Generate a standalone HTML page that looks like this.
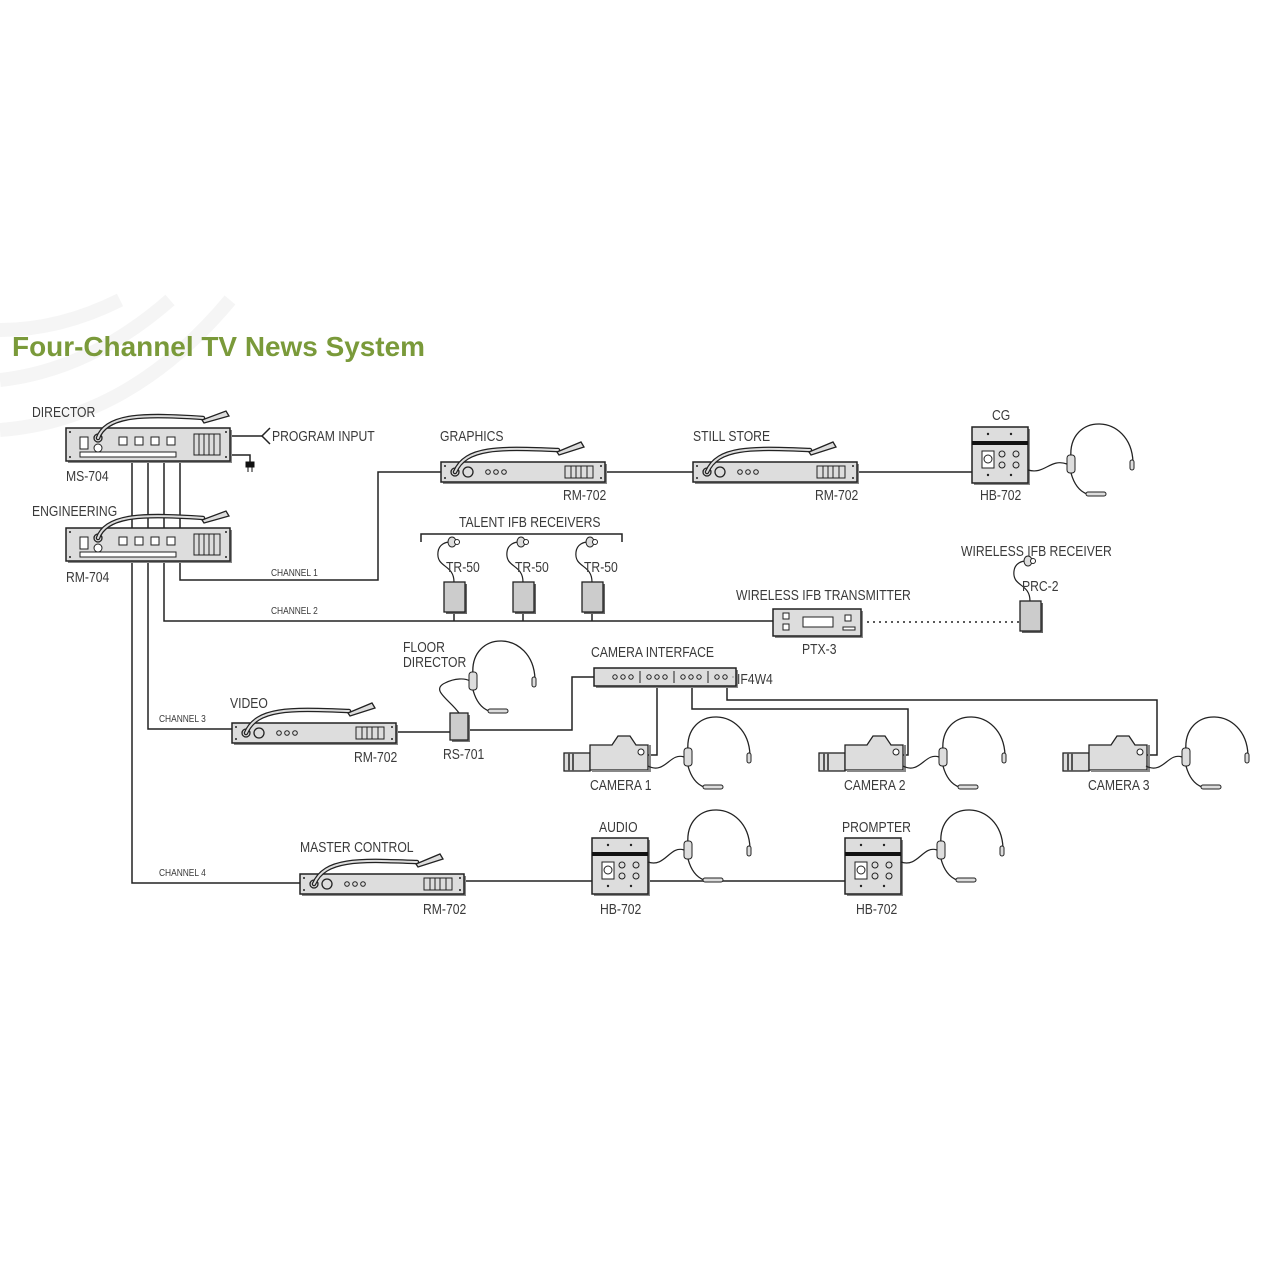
<!DOCTYPE html>
<html><head><meta charset="utf-8"><style>
html,body{margin:0;padding:0;background:#fff;}
svg{display:block;}
text{font-family:"Liberation Sans",sans-serif;fill:#3a3a3a;font-size:14.5px;transform-box:fill-box;transform-origin:left center;transform:scaleX(0.84);}
text.t{transform:none;}
.s{font-size:10px;}
</style></head><body>
<svg width="1280" height="1280" viewBox="0 0 1280 1280" xmlns="http://www.w3.org/2000/svg">
<defs>
<g id="rm702">
<rect x="2" y="2" width="164" height="20" fill="#888"/>
<rect x="0" y="0" width="164" height="20" fill="#ddd" stroke="#222" stroke-width="1.5"/>
<circle cx="4" cy="4" r="1" fill="#222"/><circle cx="4" cy="16" r="1" fill="#222"/><circle cx="160" cy="4" r="1" fill="#222"/><circle cx="160" cy="16" r="1" fill="#222"/>
<circle cx="14" cy="10" r="4" fill="none" stroke="#222" stroke-width="1.3"/>
<circle cx="27" cy="10" r="5" fill="none" stroke="#222" stroke-width="1.3"/>
<circle cx="47" cy="10" r="2.3" fill="none" stroke="#222"/><circle cx="55" cy="10" r="2.3" fill="none" stroke="#222"/><circle cx="63" cy="10" r="2.3" fill="none" stroke="#222"/>
<rect x="124" y="4" width="28" height="12" fill="none" stroke="#222"/>
<path d="M130 4V16M135 4V16M140 4V16M146 4V16" stroke="#222"/>
<path d="M14 10 C25 -16 60 -14 117 -12" fill="none" stroke="#222" stroke-width="4.5" stroke-linecap="round"/>
<path d="M14 10 C25 -16 60 -14 117 -12" fill="none" stroke="#ddd" stroke-width="2" stroke-linecap="round"/>
<path d="M116 -10 L140 -20 L143 -15 L118 -7Z" fill="#ddd" stroke="#222" stroke-width="1.3"/>
</g>
<g id="rm704">
<rect x="2" y="2" width="164" height="33" fill="#888"/>
<rect x="0" y="0" width="164" height="33" fill="#ddd" stroke="#222" stroke-width="1.5"/>
<circle cx="4" cy="4" r="1" fill="#222"/><circle cx="4" cy="29" r="1" fill="#222"/><circle cx="160" cy="4" r="1" fill="#222"/><circle cx="160" cy="29" r="1" fill="#222"/>
<rect x="14" y="9" width="8" height="12" fill="#fff" stroke="#222"/>
<circle cx="32" cy="10" r="4" fill="none" stroke="#222" stroke-width="1.3"/>
<circle cx="32" cy="20" r="4" fill="#fff" stroke="#222"/>
<rect x="53" y="9" width="8" height="8" fill="#fff" stroke="#222"/><rect x="69" y="9" width="8" height="8" fill="#fff" stroke="#222"/><rect x="85" y="9" width="8" height="8" fill="#fff" stroke="#222"/><rect x="101" y="9" width="8" height="8" fill="#fff" stroke="#222"/>
<rect x="128" y="6" width="26" height="21" fill="none" stroke="#222"/>
<path d="M133 6V27M138 6V27M143 6V27M148 6V27" stroke="#222"/>
<rect x="14" y="24" width="96" height="5" fill="#fff" stroke="#222"/>
<path d="M32 10 C40 -14 80 -14 137 -10" fill="none" stroke="#222" stroke-width="4.5" stroke-linecap="round"/>
<path d="M32 10 C40 -14 80 -14 137 -10" fill="none" stroke="#ddd" stroke-width="2" stroke-linecap="round"/>
<path d="M136 -8 L160 -17 L163 -12 L138 -5Z" fill="#ddd" stroke="#222" stroke-width="1.3"/>
</g>
<g id="hb">
<rect x="2" y="2" width="56" height="56" fill="#888"/>
<rect x="0" y="0" width="56" height="56" fill="#ddd" stroke="#222" stroke-width="1.5"/>
<rect x="0" y="14" width="56" height="4" fill="#111"/>
<circle cx="16" cy="7" r="1.2" fill="#222"/><circle cx="39" cy="7" r="1.2" fill="#222"/>
<circle cx="16" cy="48" r="1.2" fill="#222"/><circle cx="39" cy="48" r="1.2" fill="#222"/>
<rect x="10" y="24" width="12" height="17" fill="#fff" stroke="#222"/>
<circle cx="16" cy="32" r="4" fill="none" stroke="#222"/>
<circle cx="30" cy="27" r="3" fill="none" stroke="#222"/><circle cx="44" cy="27" r="3" fill="none" stroke="#222"/>
<circle cx="30" cy="38" r="3" fill="none" stroke="#222"/><circle cx="44" cy="38" r="3" fill="none" stroke="#222"/>
</g>
<g id="hs">
<path d="M0 -6 C-4 -52 60 -52 62 -2" fill="none" stroke="#222" stroke-width="1.3"/>
<rect x="59" y="-4" width="4" height="10" rx="2" fill="#ddd" stroke="#222"/>
<rect x="-4" y="-9" width="8" height="18" rx="3" fill="#ddd" stroke="#222"/>
<path d="M0 9 C3 20 8 27 16 30" fill="none" stroke="#222" stroke-width="1.3"/>
<rect x="15" y="28" width="20" height="4" rx="2" fill="#ddd" stroke="#222"/>
</g>
<g id="cam">
<rect x="0" y="7" width="26" height="18" fill="#ddd" stroke="#222" stroke-width="1.3"/>
<path d="M5 7V25M9 7V25" stroke="#555" stroke-width="2"/>
<path d="M26 0 H48 L54 -9 H66 L72 0 H84 V25 H26Z" fill="#ddd" stroke="#222" stroke-width="1.3" transform="translate(0,-1)"/>
<path d="M28 25 H86 V-1" fill="none" stroke="#888" stroke-width="2"/>
<circle cx="77" cy="6" r="3" fill="#fff" stroke="#222"/>
</g>
<g id="tr">
<path d="M10 0 C10 -18 -8 -14 -6 -30 C-5 -38 2 -40 6 -40" fill="none" stroke="#222" stroke-width="1.2"/>
<ellipse cx="8" cy="-40" rx="4" ry="5" fill="#ddd" stroke="#222"/>
<circle cx="13" cy="-40" r="2.5" fill="#fff" stroke="#222"/>
<rect x="2" y="2" width="21" height="30" fill="#666"/>
<rect x="0" y="0" width="21" height="30" fill="#ccc" stroke="#222" stroke-width="1.3"/>
</g>
</defs>

<!-- background arcs -->
<g fill="none" stroke="#f5f5f5" stroke-width="14">
<path d="M0 330 Q60 330 120 300"/>
<path d="M0 380 Q90 370 170 300"/>
<path d="M0 430 Q130 420 230 300"/>
</g>

<text class="t" x="12" y="356" textLength="413" lengthAdjust="spacingAndGlyphs" style="font-size:28px;font-weight:bold;fill:#7a9a3a;">Four-Channel TV News System</text>

<!-- connectors -->
<g fill="none" stroke="#222" stroke-width="1.5">
<path d="M132 460V883H300"/>
<path d="M148 460V729H232"/>
<path d="M164 460V621H773"/>
<path d="M180 460V580H378V472H441"/>
<path d="M230 436H262"/>
<path d="M230 455H250V462"/>
<path d="M605 472H693"/>
<path d="M857 472H972"/>
<path d="M396 732H450"/>
<path d="M468 730H572V677H594"/>
<path d="M657 686V755H648"/>
<path d="M692 686V709H908V755H903"/>
<path d="M727 686V700H1157V755H1146"/>
<path d="M465 881H592"/>
<path d="M648 881H845"/>
<path d="M421 542V534H622V542"/>
<path d="M454 612V621M523 612V621M592 612V621"/>
<path d="M1030 630V621"/>
</g>
<path d="M270 428 L262 436 L270 444" fill="none" stroke="#222" stroke-width="1.5"/>
<path d="M246 462h8v5h-8z M248 467v5 M252 467v5" fill="#111" stroke="#111"/>
<path d="M861 622H1020" stroke="#222" stroke-width="1.5" stroke-dasharray="2 4"/>

<!-- devices -->
<use href="#rm704" x="66" y="428"/>
<use href="#rm704" x="66" y="528"/>
<use href="#rm702" x="441" y="462"/>
<use href="#rm702" x="693" y="462"/>
<use href="#rm702" x="232" y="723"/>
<use href="#rm702" x="300" y="874"/>
<use href="#hb" x="972" y="427"/>
<use href="#hb" x="592" y="838"/>
<use href="#hb" x="845" y="838"/>

<use href="#tr" x="444" y="582"/>
<use href="#tr" x="513" y="582"/>
<use href="#tr" x="582" y="582"/>
<use href="#tr" x="1020" y="601"/>

<!-- PTX-3 -->
<rect x="775" y="611" width="88" height="27" fill="#888"/>
<rect x="773" y="609" width="88" height="27" fill="#ddd" stroke="#222" stroke-width="1.5"/>
<rect x="783" y="613" width="6" height="6" fill="#fff" stroke="#222"/><rect x="783" y="624" width="6" height="6" fill="#fff" stroke="#222"/>
<rect x="803" y="617" width="30" height="10" fill="#fff" stroke="#222"/>
<rect x="845" y="615" width="6" height="6" fill="#fff" stroke="#222"/><rect x="843" y="627" width="12" height="3" fill="#fff" stroke="#222"/>

<!-- RS-701 -->
<rect x="452" y="715" width="18" height="27" fill="#777"/>
<rect x="450" y="713" width="18" height="27" fill="#ccc" stroke="#222" stroke-width="1.3"/>

<!-- IF4W4 -->
<rect x="596" y="670" width="142" height="18" fill="#888"/>
<rect x="594" y="668" width="142" height="18" fill="#ddd" stroke="#222" stroke-width="1.5"/>
<g fill="none" stroke="#222">
<circle cx="615" cy="677" r="2.2"/><circle cx="623" cy="677" r="2.2"/><circle cx="631" cy="677" r="2.2"/>
<circle cx="649" cy="677" r="2.2"/><circle cx="657" cy="677" r="2.2"/><circle cx="665" cy="677" r="2.2"/>
<circle cx="683" cy="677" r="2.2"/><circle cx="691" cy="677" r="2.2"/><circle cx="699" cy="677" r="2.2"/>
<circle cx="717" cy="677" r="2.2"/><circle cx="725" cy="677" r="2.2"/><circle cx="733" cy="677" r="0.1"/>
<path d="M640 671V683M674 671V683M708 671V683"/>
</g>

<!-- cameras -->
<use href="#cam" x="564" y="746"/>
<use href="#cam" x="819" y="746"/>
<use href="#cam" x="1063" y="746"/>

<!-- headsets and cables -->
<g fill="none" stroke="#222" stroke-width="1.2">
<path d="M1028 470 C1045 475 1050 458 1067 464"/>
<path d="M648 766 C665 775 670 752 684 757"/>
<path d="M903 766 C920 775 925 752 939 757"/>
<path d="M1146 766 C1163 775 1168 752 1182 757"/>
<path d="M648 862 C665 868 670 845 684 850"/>
<path d="M901 862 C918 868 923 845 937 850"/>
<path d="M459 713 C450 700 430 690 445 683 C455 678 465 678 470 681"/>
</g>
<use href="#hs" x="1071" y="464"/>
<use href="#hs" x="688" y="757"/>
<use href="#hs" x="943" y="757"/>
<use href="#hs" x="1186" y="757"/>
<use href="#hs" x="688" y="850"/>
<use href="#hs" x="941" y="850"/>
<use href="#hs" x="473" y="681"/>

<!-- labels -->
<text x="32" y="417">DIRECTOR</text>
<text x="66" y="481">MS-704</text>
<text x="272" y="441">PROGRAM INPUT</text>
<text x="32" y="516">ENGINEERING</text>
<text x="66" y="582">RM-704</text>
<text x="440" y="441">GRAPHICS</text>
<text x="563" y="500">RM-702</text>
<text x="693" y="441">STILL STORE</text>
<text x="815" y="500">RM-702</text>
<text x="992" y="420">CG</text>
<text x="980" y="500">HB-702</text>
<text x="459" y="527">TALENT IFB RECEIVERS</text>
<text x="446" y="572">TR-50</text>
<text x="515" y="572">TR-50</text>
<text x="584" y="572">TR-50</text>
<text class="s" x="271" y="576">CHANNEL 1</text>
<text class="s" x="271" y="614">CHANNEL 2</text>
<text class="s" x="159" y="722">CHANNEL 3</text>
<text class="s" x="159" y="876">CHANNEL 4</text>
<text x="961" y="556">WIRELESS IFB RECEIVER</text>
<text x="1022" y="591">PRC-2</text>
<text x="736" y="600">WIRELESS IFB TRANSMITTER</text>
<text x="802" y="654">PTX-3</text>
<text x="403" y="652">FLOOR</text>
<text x="403" y="667">DIRECTOR</text>
<text x="443" y="759">RS-701</text>
<text x="230" y="708">VIDEO</text>
<text x="354" y="762">RM-702</text>
<text x="591" y="657">CAMERA INTERFACE</text>
<text x="737" y="684">IF4W4</text>
<text x="590" y="790">CAMERA 1</text>
<text x="844" y="790">CAMERA 2</text>
<text x="1088" y="790">CAMERA 3</text>
<text x="300" y="852">MASTER CONTROL</text>
<text x="423" y="914">RM-702</text>
<text x="599" y="832">AUDIO</text>
<text x="600" y="914">HB-702</text>
<text x="842" y="832">PROMPTER</text>
<text x="856" y="914">HB-702</text>
</svg>
</body></html>
